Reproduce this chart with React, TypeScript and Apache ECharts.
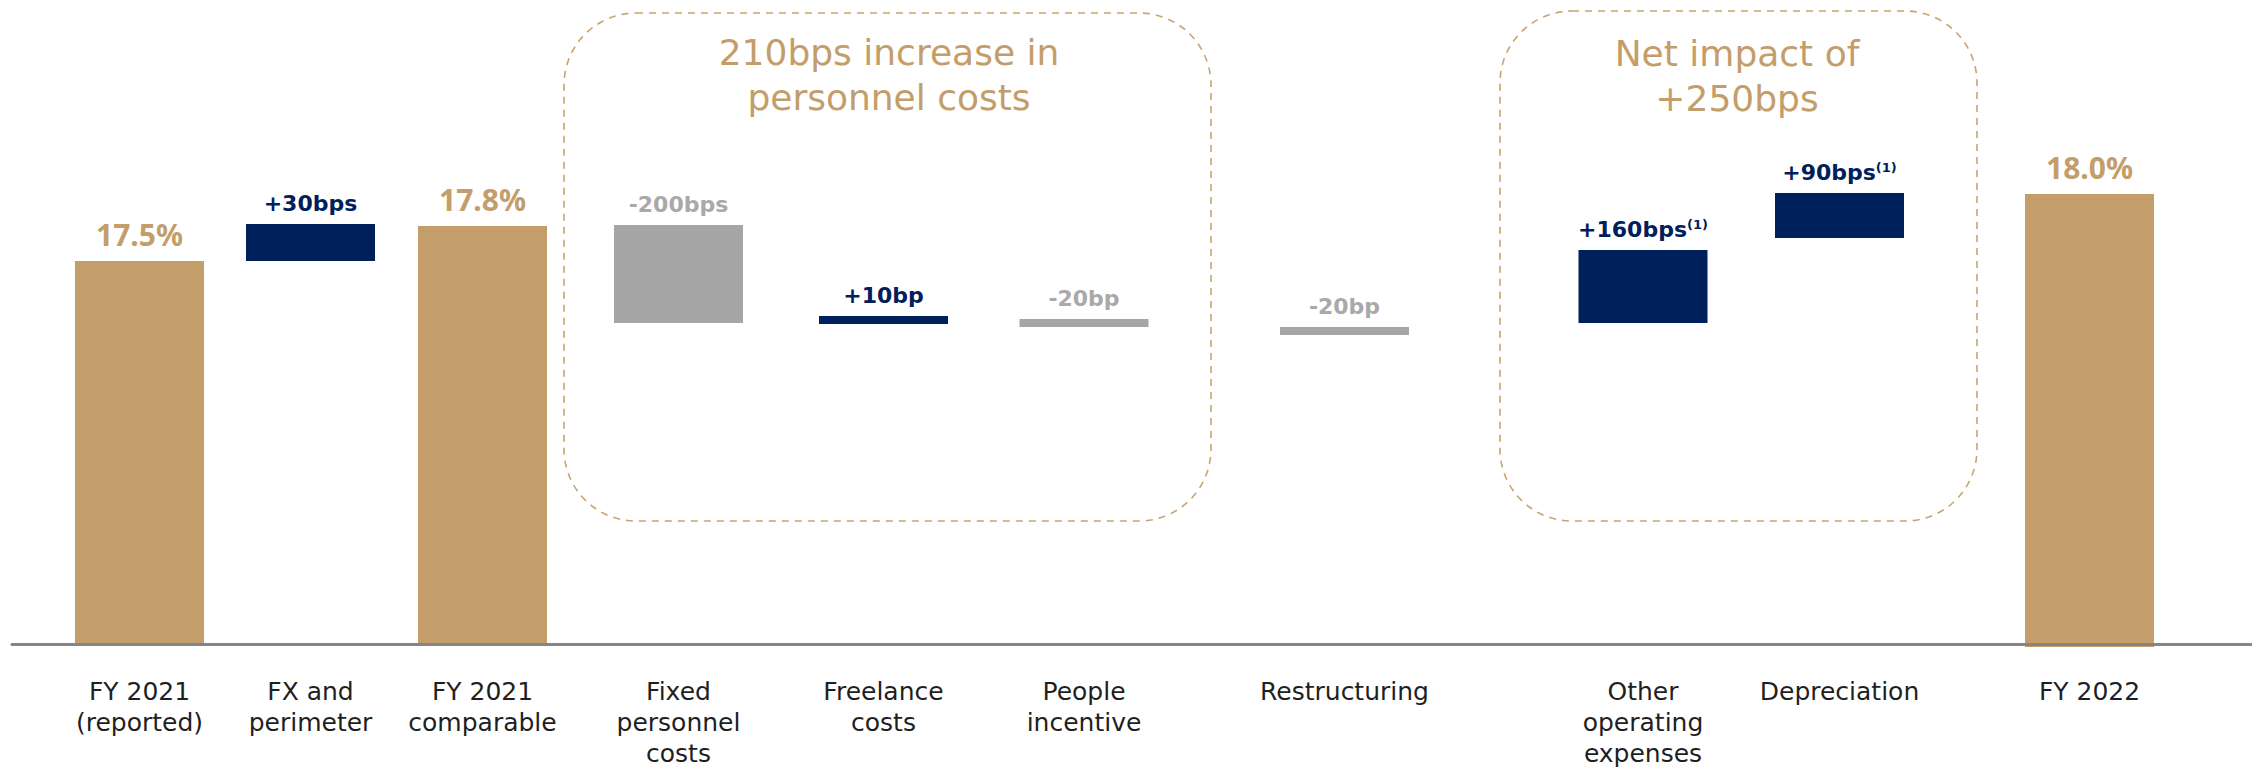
import React, { useEffect, useRef } from 'react';
import * as echarts from 'echarts';

// ---------------- data ----------------
const CATEGORIES = [
  'FY 2021\n(reported)',
  'FX and\nperimeter',
  'FY 2021\ncomparable',
  'Fixed\npersonnel\ncosts',
  'Freelance\ncosts',
  'People\nincentive',
  'Restructuring',
  'Other\noperating\nexpenses',
  'Depreciation',
  'FY 2022',
];
const VALUE_LABELS = ['17.5%', '+30bps', '17.8%', '-200bps', '+10bp', '-20bp', '-20bp', '+160bps', '+90bps', '18.0%'];
const FOOTNOTES = ['', '', '', '', '', '', '', '(1)', '(1)', ''];
const KINDS = ['total', 'increase', 'total', 'decrease', 'increase', 'decrease', 'decrease', 'increase', 'increase', 'total'];
// drawn bar extents, read off the (illustrative, not-to-scale) picture; 0 = axis line
const BAR_START = [0, 76.6, 0, 83.8, 64.0, 65.0, 63.4, 64.2, 81.2, -0.6];
const BAR_END = [76.6, 84.0, 83.6, 64.2, 65.6, 63.4, 61.8, 78.8, 90.2, 90.0];
const BOX_TITLES = ['210bps increase in\npersonnel costs', 'Net impact of\n+250bps'];

// ---------------- layout / style ----------------
const X_SLOT = [6.375, 14.925, 23.525, 33.325, 43.575, 53.6, 66.625, 81.55, 91.375, 103.875];
const BAR_SPAN = 6.45;
const GOLD = '#C39D6A';
const NAVY = '#00205B';
const GREY = '#A6A6A6';
const BOX = '#C9A46E';
const FILL: Record<string, string> = { total: GOLD, increase: NAVY, decrease: GREY };

const RICH: any = {
  total: { fontFamily: 'Noto Sans', fontWeight: 'bold', fontSize: 30, fill: GOLD },
  increase: { fontFamily: 'DejaVu Sans', fontWeight: 'bold', fontSize: 22, fill: NAVY },
  decrease: { fontFamily: 'DejaVu Sans', fontWeight: 'bold', fontSize: 22, fill: '#A9A9A9' },
  sup: { fontFamily: 'DejaVu Sans', fontWeight: 'bold', fontSize: 13, fill: NAVY, verticalAlign: 'top' },
};

function labelText(i: number) {
  let t = `{${KINDS[i]}|${VALUE_LABELS[i]}}`;
  if (FOOTNOTES[i]) t += `{sup|${FOOTNOTES[i]}}`;
  return t;
}

export default function App() {
  const ref = useRef<HTMLDivElement>(null);
  useEffect(() => {
    if (!ref.current) return;
    const chart = echarts.init(ref.current, null, { renderer: 'svg' });
    const data = X_SLOT.map((x, i) => [x, BAR_START[i], BAR_END[i]]);

    const option: any = {
      animation: false,
      backgroundColor: '#ffffff',
      grid: { left: 12, right: 0, top: 164, bottom: 106, outerBoundsMode: 'none', containLabel: false },
      xAxis: {
        type: 'value',
        min: 0,
        max: 112,
        z: 10,
        axisLine: { show: true, onZero: true, lineStyle: { color: '#858585', width: 3 } },
        axisTick: { show: false },
        splitLine: { show: false },
        axisLabel: {
          show: true,
          customValues: X_SLOT,
          margin: 12,
          fontFamily: 'DejaVu Sans',
          fontSize: 25,
          lineHeight: 31,
          color: '#1f1f1f',
          align: 'center',
          formatter: (v: number) => {
            let best = 0;
            X_SLOT.forEach((s, i) => {
              if (Math.abs(s - v) < Math.abs(X_SLOT[best] - v)) best = i;
            });
            return CATEGORIES[best];
          },
        },
      },
      yAxis: { type: 'value', min: -4, max: 96, show: false },
      series: [
        {
          type: 'custom',
          name: 'EBITDA margin bridge',
          encode: { x: 0, y: [1, 2] },
          data,
          renderItem: (params: any, api: any) => {
            const i = params.dataIndex;
            const x = api.value(0);
            const s = api.value(1);
            const e = api.value(2);
            const lo = api.coord([x, Math.min(s, e)]);
            const hi = api.coord([x, Math.max(s, e)]);
            const w = api.size([BAR_SPAN, 0])[0];
            return {
              type: 'rect',
              shape: { x: lo[0] - w / 2, y: hi[1], width: w, height: lo[1] - hi[1] },
              style: { fill: FILL[KINDS[i]] },
              textContent: {
                style: { text: labelText(i), rich: RICH, align: 'center' },
              },
              textConfig: { position: 'top', distance: KINDS[i] === 'total' ? 12 : 10 },
            };
          },
        },
      ],
      graphic: {
        elements: [
          {
            type: 'rect',
            silent: true,
            shape: { x: 564, y: 13, width: 647, height: 508, r: 72 },
            style: { fill: 'transparent', stroke: BOX, lineWidth: 1.6, lineDash: [7, 6] },
          },
          {
            type: 'rect',
            silent: true,
            shape: { x: 1500, y: 11, width: 477, height: 510, r: 72 },
            style: { fill: 'transparent', stroke: BOX, lineWidth: 1.6, lineDash: [7, 6] },
          },
          {
            type: 'text',
            silent: true,
            x: 889,
            y: 30,
            style: {
              text: BOX_TITLES[0],
              align: 'center',
              verticalAlign: 'top',
              fontFamily: 'DejaVu Sans',
              fontSize: 36,
              lineHeight: 45,
              fill: GOLD,
            },
          },
          {
            type: 'text',
            silent: true,
            x: 1737,
            y: 31,
            style: {
              text: BOX_TITLES[1],
              align: 'center',
              verticalAlign: 'top',
              fontFamily: 'DejaVu Sans',
              fontSize: 36,
              lineHeight: 45,
              fill: GOLD,
            },
          },
        ],
      },
    };
    chart.setOption(option);
    return () => chart.dispose();
  }, []);
  return (
    <div
      ref={ref}
      style={{ position: 'fixed', left: 0, top: 0, width: 2252, height: 770, background: '#fff' }}
    />
  );
}
